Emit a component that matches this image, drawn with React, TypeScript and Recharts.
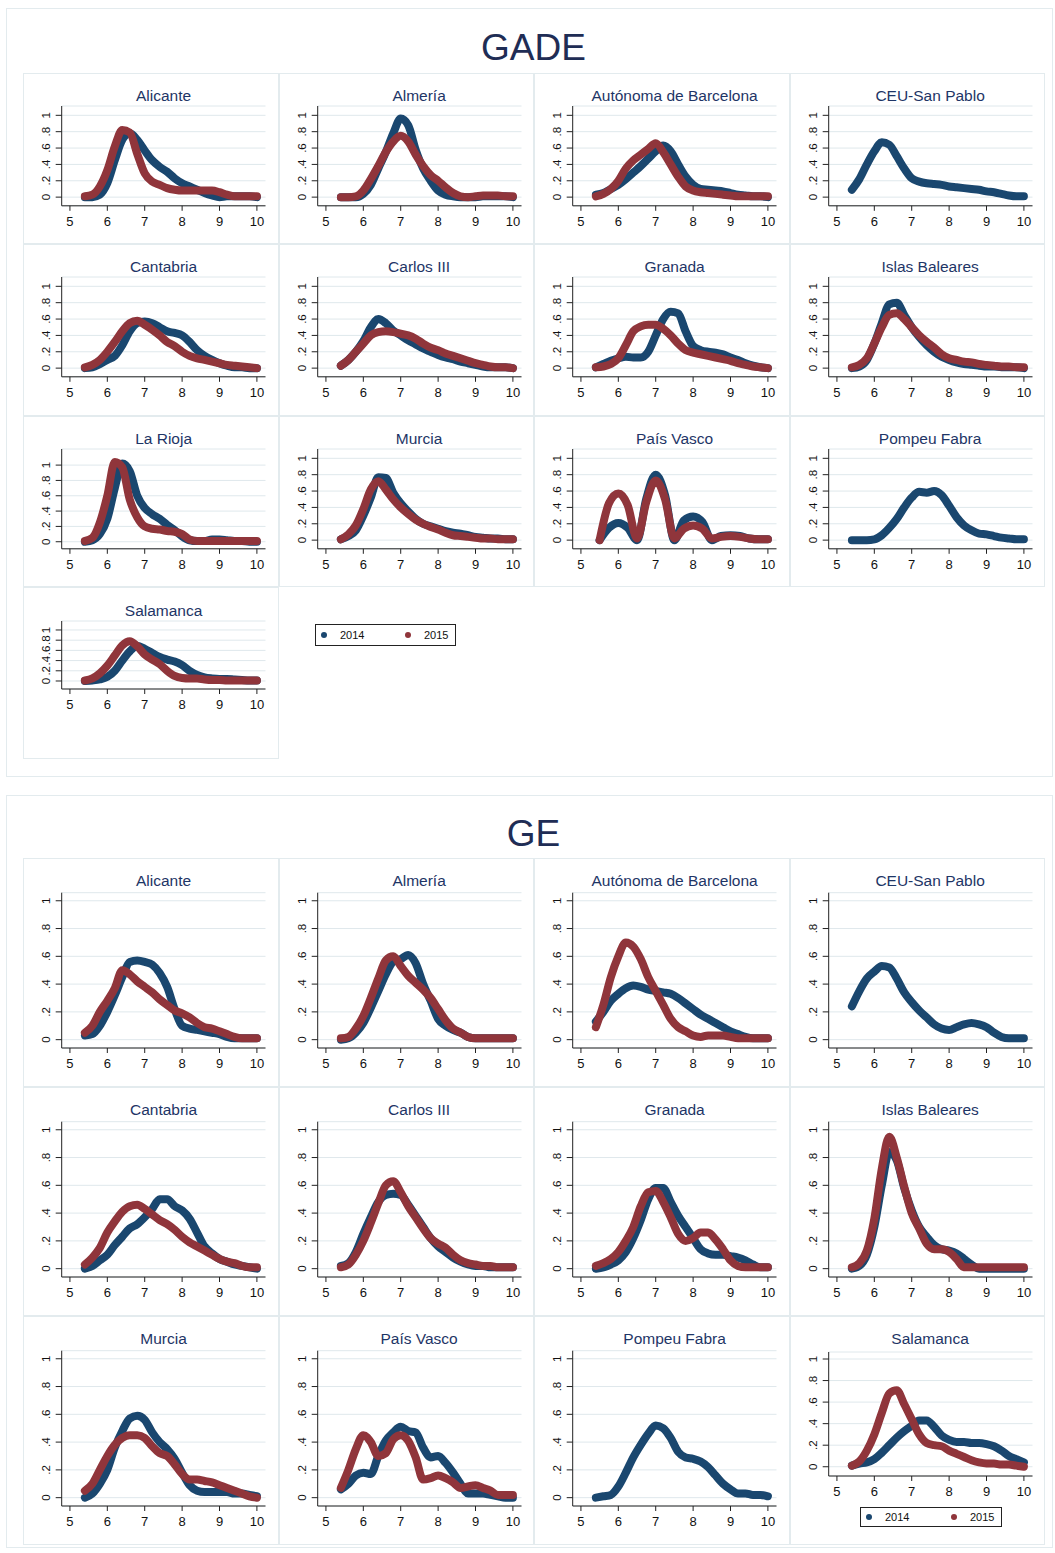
import React from 'react';
import { LineChart, Line, XAxis, YAxis, CartesianGrid } from 'recharts';

const BLUE = '#1a476f';
const RED = '#90353b';
const GRID = '#dfe8ec';
const FRAME = '#e3ebee';
const TITLE = '#1e3566';

// x grid of the density estimates
const X = [5.4, 5.6, 5.8, 6.0, 6.2, 6.4, 6.6, 6.8, 7.0, 7.2, 7.4, 7.6, 7.8, 8.0, 8.2, 8.4, 8.6, 8.8, 9.0, 9.2, 9.4, 9.6, 9.8, 10.0];
const X_PV = [5.5, 5.75, 6.0, 6.25, 6.5, 6.75, 7.0, 7.25, 7.5, 7.75, 8.0, 8.25, 8.5, 8.75, 9.0, 9.25, 9.5, 9.75, 10.0];
const X_TICKS = [5, 6, 7, 8, 9, 10];
const Y_TICKS = [0, 0.2, 0.4, 0.6, 0.8, 1];
const Y_LABELS = ['0', '.2', '.4', '.6', '.8', '1'];
const YEARS = ['2014', '2015'];

// ---- GADE ----
const gadeAlicante14 = [0, 0, 0.03, 0.17, 0.45, 0.7, 0.78, 0.7, 0.57, 0.45, 0.37, 0.31, 0.23, 0.17, 0.13, 0.09, 0.05, 0.02, 0, 0.01, 0.01, 0.01, 0.01, 0];
const gadeAlicante15 = [0.01, 0.03, 0.13, 0.33, 0.62, 0.82, 0.79, 0.53, 0.29, 0.19, 0.15, 0.11, 0.09, 0.08, 0.08, 0.08, 0.08, 0.08, 0.06, 0.03, 0.01, 0.01, 0.01, 0.01];
const gadeAlmeria14 = [0, 0, 0, 0.04, 0.15, 0.35, 0.55, 0.78, 0.96, 0.88, 0.58, 0.35, 0.2, 0.08, 0.03, 0.01, 0, 0, 0, 0.01, 0.01, 0.01, 0.01, 0];
const gadeAlmeria15 = [0, 0, 0.01, 0.08, 0.22, 0.38, 0.55, 0.68, 0.75, 0.68, 0.52, 0.38, 0.27, 0.2, 0.12, 0.05, 0.01, 0, 0.01, 0.02, 0.02, 0.02, 0.01, 0.01];
const gadeAutonoma14 = [0.03, 0.05, 0.1, 0.15, 0.22, 0.3, 0.38, 0.47, 0.56, 0.63, 0.56, 0.4, 0.25, 0.15, 0.1, 0.09, 0.08, 0.07, 0.05, 0.03, 0.02, 0.01, 0.01, 0];
const gadeAutonoma15 = [0.01, 0.04, 0.1, 0.2, 0.35, 0.45, 0.52, 0.59, 0.66, 0.55, 0.4, 0.25, 0.13, 0.08, 0.06, 0.05, 0.04, 0.03, 0.02, 0.01, 0.01, 0.01, 0.01, 0.01];
const gadeCeu14 = [0.09, 0.22, 0.4, 0.56, 0.67, 0.64, 0.5, 0.35, 0.23, 0.19, 0.17, 0.16, 0.15, 0.13, 0.12, 0.11, 0.1, 0.09, 0.07, 0.06, 0.04, 0.02, 0.01, 0.01];
const gadeCantabria14 = [0, 0.01, 0.05, 0.1, 0.15, 0.28, 0.45, 0.55, 0.57, 0.55, 0.5, 0.45, 0.43, 0.4, 0.32, 0.22, 0.15, 0.1, 0.06, 0.03, 0.01, 0.01, 0, 0];
const gadeCantabria15 = [0.01, 0.04, 0.1, 0.2, 0.32, 0.45, 0.55, 0.58, 0.53, 0.47, 0.4, 0.32, 0.27, 0.2, 0.15, 0.12, 0.1, 0.08, 0.06, 0.04, 0.03, 0.02, 0.01, 0];
const gadeCarlos14 = [0.03, 0.1, 0.2, 0.33, 0.5, 0.6, 0.55, 0.46, 0.4, 0.34, 0.29, 0.24, 0.2, 0.16, 0.13, 0.11, 0.08, 0.06, 0.04, 0.02, 0.01, 0.01, 0.01, 0];
const gadeCarlos15 = [0.03, 0.1, 0.2, 0.3, 0.4, 0.44, 0.45, 0.44, 0.42, 0.4, 0.36, 0.3, 0.25, 0.22, 0.18, 0.15, 0.12, 0.09, 0.06, 0.04, 0.02, 0.01, 0.01, 0];
const gadeGranada14 = [0.01, 0.05, 0.09, 0.12, 0.14, 0.13, 0.13, 0.2, 0.4, 0.6, 0.69, 0.67, 0.45, 0.27, 0.22, 0.2, 0.19, 0.17, 0.13, 0.1, 0.06, 0.03, 0.01, 0];
const gadeGranada15 = [0.01, 0.02, 0.05, 0.12, 0.28, 0.45, 0.51, 0.53, 0.53, 0.48, 0.4, 0.3, 0.22, 0.19, 0.17, 0.15, 0.13, 0.11, 0.09, 0.06, 0.04, 0.02, 0.01, 0];
const gadeBaleares14 = [0, 0.02, 0.1, 0.3, 0.55, 0.78, 0.8, 0.65, 0.5, 0.38, 0.28, 0.2, 0.14, 0.1, 0.07, 0.05, 0.04, 0.03, 0.02, 0.02, 0.01, 0.01, 0.01, 0];
const gadeBaleares15 = [0.01, 0.04, 0.12, 0.3, 0.5, 0.65, 0.67, 0.6, 0.5, 0.4, 0.32, 0.25, 0.17, 0.12, 0.1, 0.08, 0.07, 0.05, 0.04, 0.03, 0.02, 0.02, 0.01, 0.01];
const gadeRioja14 = [0, 0.02, 0.1, 0.3, 0.7, 1.02, 0.92, 0.6, 0.44, 0.36, 0.3, 0.22, 0.15, 0.07, 0.02, 0.01, 0.01, 0.03, 0.03, 0.02, 0.01, 0.01, 0, 0];
const gadeRioja15 = [0.01, 0.05, 0.25, 0.6, 1.04, 0.97, 0.55, 0.32, 0.2, 0.17, 0.16, 0.14, 0.13, 0.1, 0.03, 0.01, 0.01, 0.01, 0.01, 0.01, 0.01, 0.01, 0.01, 0.01];
const gadeMurcia14 = [0.01, 0.05, 0.12, 0.3, 0.52, 0.77, 0.76, 0.58, 0.45, 0.35, 0.26, 0.2, 0.17, 0.14, 0.11, 0.09, 0.08, 0.06, 0.04, 0.03, 0.02, 0.02, 0.01, 0.01];
const gadeMurcia15 = [0.01, 0.07, 0.18, 0.38, 0.62, 0.72, 0.62, 0.5, 0.4, 0.32, 0.25, 0.2, 0.16, 0.13, 0.09, 0.06, 0.05, 0.04, 0.03, 0.02, 0.02, 0.01, 0.01, 0.01];
const gadeVasco14 = [0, 0.15, 0.21, 0.15, 0, 0.51, 0.8, 0.55, 0, 0.24, 0.29, 0.22, 0, 0.05, 0.06, 0.05, 0.02, 0.01, 0.01];
const gadeVasco15 = [0, 0.45, 0.57, 0.43, 0.02, 0.47, 0.73, 0.5, 0.02, 0.14, 0.18, 0.14, 0.02, 0.04, 0.05, 0.04, 0.02, 0.01, 0.01];
const gadePompeu14 = [0, 0, 0, 0.01, 0.06, 0.15, 0.26, 0.4, 0.52, 0.59, 0.58, 0.6, 0.55, 0.42, 0.28, 0.18, 0.12, 0.08, 0.07, 0.05, 0.03, 0.02, 0.01, 0.01];
const gadeSalamanca14 = [0, 0.01, 0.03, 0.08, 0.2, 0.4, 0.58, 0.69, 0.63, 0.55, 0.47, 0.42, 0.38, 0.31, 0.2, 0.12, 0.07, 0.05, 0.04, 0.04, 0.03, 0.02, 0.01, 0.01];
const gadeSalamanca15 = [0.01, 0.05, 0.15, 0.3, 0.5, 0.7, 0.78, 0.68, 0.52, 0.42, 0.33, 0.2, 0.1, 0.06, 0.05, 0.05, 0.03, 0.02, 0.02, 0.01, 0.01, 0.01, 0.01, 0.01];

// ---- GE ----
const geAlicante14 = [0.03, 0.04, 0.1, 0.2, 0.32, 0.45, 0.56, 0.57, 0.56, 0.54, 0.48, 0.38, 0.22, 0.1, 0.08, 0.07, 0.06, 0.05, 0.04, 0.02, 0.01, 0.01, 0.01, 0.01];
const geAlicante15 = [0.05, 0.1, 0.2, 0.28, 0.37, 0.5, 0.47, 0.42, 0.38, 0.34, 0.29, 0.25, 0.21, 0.19, 0.16, 0.12, 0.09, 0.08, 0.06, 0.04, 0.02, 0.01, 0.01, 0.01];
const geAlmeria14 = [0, 0.01, 0.05, 0.12, 0.23, 0.35, 0.47, 0.56, 0.58, 0.61, 0.55, 0.4, 0.28, 0.15, 0.1, 0.07, 0.05, 0.02, 0.01, 0.01, 0.01, 0.01, 0.01, 0.01];
const geAlmeria15 = [0.01, 0.02, 0.08, 0.17, 0.3, 0.44, 0.57, 0.6, 0.53, 0.46, 0.41, 0.36, 0.3, 0.22, 0.14, 0.08, 0.05, 0.02, 0.01, 0.01, 0.01, 0.01, 0.01, 0.01];
const geAutonoma14 = [0.13, 0.2, 0.28, 0.33, 0.37, 0.39, 0.38, 0.36, 0.35, 0.34, 0.33, 0.3, 0.26, 0.22, 0.18, 0.15, 0.12, 0.09, 0.06, 0.04, 0.02, 0.01, 0.01, 0.01];
const geAutonoma15 = [0.09, 0.25, 0.45, 0.6, 0.7, 0.67, 0.58, 0.45, 0.35, 0.25, 0.15, 0.09, 0.06, 0.03, 0.02, 0.03, 0.03, 0.03, 0.02, 0.01, 0.01, 0.01, 0.01, 0.01];
const geCeu14 = [0.24, 0.35, 0.44, 0.49, 0.53, 0.52, 0.44, 0.34, 0.27, 0.21, 0.16, 0.11, 0.08, 0.07, 0.09, 0.11, 0.12, 0.11, 0.09, 0.05, 0.02, 0.01, 0.01, 0.01];
const geCantabria14 = [0, 0.02, 0.06, 0.1, 0.17, 0.23, 0.29, 0.32, 0.37, 0.43, 0.5, 0.5, 0.45, 0.42, 0.36, 0.26, 0.16, 0.11, 0.07, 0.05, 0.03, 0.02, 0.01, 0];
const geCantabria15 = [0.03, 0.08, 0.15, 0.26, 0.34, 0.41, 0.45, 0.46, 0.43, 0.39, 0.35, 0.32, 0.28, 0.23, 0.19, 0.16, 0.13, 0.1, 0.07, 0.05, 0.04, 0.02, 0.01, 0.01];
const geCarlos14 = [0.02, 0.04, 0.12, 0.25, 0.37, 0.48, 0.53, 0.54, 0.53, 0.46, 0.38, 0.3, 0.22, 0.16, 0.12, 0.08, 0.05, 0.03, 0.02, 0.02, 0.01, 0.01, 0.01, 0.01];
const geCarlos15 = [0.01, 0.03, 0.1, 0.2, 0.33, 0.47, 0.6, 0.63, 0.55, 0.45, 0.37, 0.29, 0.22, 0.18, 0.15, 0.1, 0.06, 0.04, 0.03, 0.02, 0.02, 0.01, 0.01, 0.01];
const geGranada14 = [0, 0.01, 0.03, 0.06, 0.12, 0.22, 0.35, 0.5, 0.58, 0.58, 0.48, 0.38, 0.3, 0.22, 0.14, 0.11, 0.1, 0.1, 0.09, 0.08, 0.06, 0.03, 0.01, 0.01];
const geGranada15 = [0.02, 0.04, 0.07, 0.12, 0.2, 0.3, 0.45, 0.55, 0.56, 0.48, 0.37, 0.25, 0.2, 0.22, 0.26, 0.26, 0.21, 0.14, 0.06, 0.02, 0.01, 0.01, 0.01, 0.01];
const geBaleares14 = [0, 0.02, 0.1, 0.3, 0.6, 0.84, 0.78, 0.58, 0.42, 0.3, 0.23, 0.17, 0.14, 0.13, 0.11, 0.07, 0.03, 0, 0, 0, 0, 0, 0, 0];
const geBaleares15 = [0.01, 0.04, 0.13, 0.36, 0.72, 0.95, 0.8, 0.59, 0.4, 0.29, 0.18, 0.14, 0.14, 0.12, 0.07, 0.01, 0.01, 0.01, 0.01, 0.01, 0.01, 0.01, 0.01, 0.01];
const geMurcia14 = [0, 0.03, 0.1, 0.2, 0.36, 0.48, 0.57, 0.59, 0.56, 0.47, 0.4, 0.35, 0.28, 0.18, 0.09, 0.05, 0.04, 0.04, 0.04, 0.04, 0.03, 0.03, 0.02, 0.01];
const geMurcia15 = [0.05, 0.1, 0.2, 0.3, 0.38, 0.43, 0.45, 0.45, 0.43, 0.37, 0.32, 0.3, 0.24, 0.17, 0.13, 0.13, 0.12, 0.11, 0.09, 0.07, 0.05, 0.03, 0.01, 0];
const geVasco14 = [0.06, 0.1, 0.16, 0.18, 0.17, 0.3, 0.41, 0.47, 0.51, 0.48, 0.47, 0.36, 0.29, 0.3, 0.25, 0.18, 0.1, 0.03, 0.03, 0.03, 0.02, 0.01, 0, 0];
const geVasco15 = [0.07, 0.2, 0.35, 0.45, 0.4, 0.3, 0.32, 0.42, 0.45, 0.41, 0.29, 0.13, 0.14, 0.16, 0.14, 0.11, 0.07, 0.08, 0.09, 0.07, 0.05, 0.02, 0.02, 0.02];
const gePompeu14 = [0, 0.01, 0.02, 0.08, 0.18, 0.29, 0.38, 0.46, 0.52, 0.5, 0.43, 0.33, 0.29, 0.28, 0.26, 0.22, 0.16, 0.1, 0.06, 0.03, 0.03, 0.02, 0.02, 0.01];
const geSalamanca14 = [0.01, 0.03, 0.04, 0.07, 0.13, 0.2, 0.27, 0.33, 0.38, 0.43, 0.43, 0.37, 0.29, 0.25, 0.23, 0.23, 0.22, 0.22, 0.21, 0.19, 0.15, 0.1, 0.07, 0.04];
const geSalamanca15 = [0.01, 0.05, 0.15, 0.3, 0.5, 0.68, 0.71, 0.58, 0.44, 0.3, 0.22, 0.2, 0.19, 0.15, 0.12, 0.09, 0.06, 0.04, 0.03, 0.03, 0.02, 0.02, 0.01, 0];

// panel geometry (px inside a panel)
const PW = 255.5;
const COLS = [23, 278.5, 534, 789.5];
const GADE_ROWS = [72.5, 244, 415.5, 587];
const GE_ROWS = [858, 1087, 1316];
const X_DOMAIN = [4.78, 10.23];
const PLOT_LEFT = 38.7;
const PLOT_RIGHT = 242.5;

type Geo = { h: number; titleY: number; top: number; bottom: number; y: number[] };
const G_GADE: Geo = { h: 171.5, titleY: 23, top: 33, bottom: 132.8, y: [-0.106, 1.114] };
const G_RIOJA: Geo = { h: 171.5, titleY: 23, top: 33, bottom: 132.8, y: [-0.092, 1.21] };
const G_GADE_SAL: Geo = { h: 171.5, titleY: 24, top: 34, bottom: 102, y: [-0.157, 1.176] };
const G_GE: Geo = { h: 229, titleY: 23.4, top: 34.7, bottom: 190, y: [-0.06, 1.058] };
const G_GE_SAL: Geo = { h: 229, titleY: 23.4, top: 36, bottom: 160, y: [-0.086, 1.065] };

const YTick = (props: any) => {
  const { y, payload } = props;
  const i = Y_TICKS.indexOf(payload.value);
  return (
    <text x={23.5} y={y} transform={`rotate(-90 23.5 ${y})`} textAnchor="middle" dominantBaseline="central" fontSize={11.5} fill="#111">
      {Y_LABELS[i]}
    </text>
  );
};

interface PanelProps {
  left: number;
  top: number;
  title: string;
  xs: number[];
  s14: number[];
  s15?: number[];
  geo: Geo;
}

const Panel: React.FC<PanelProps> = ({ left, top, title, xs, s14, s15, geo }) => {
  const data = xs.map((x, i) => ({ x, a: s14[i], b: s15 ? s15[i] : null }));
  return (
    <div style={{ position: 'absolute', left, top, width: PW, height: geo.h, boxShadow: `inset 0 0 0 1px ${FRAME}` }}>
      <div style={{ position: 'absolute', left: PLOT_LEFT, width: PLOT_RIGHT - PLOT_LEFT, top: geo.titleY - 9, height: 18, lineHeight: '18px', textAlign: 'center', fontSize: 15.5, color: TITLE, whiteSpace: 'nowrap' }}>
        {title}
      </div>
      <div style={{ position: 'absolute', left: 0, top: 0 }}>
        <LineChart
          width={PW}
          height={geo.h}
          data={data}
          margin={{ top: geo.top, right: PW - PLOT_RIGHT, bottom: geo.h - geo.bottom - 30, left: PLOT_LEFT - 38 }}
        >
          <CartesianGrid vertical={false} stroke={GRID} strokeWidth={1} />
          <XAxis
            type="number"
            dataKey="x"
            domain={X_DOMAIN}
            ticks={X_TICKS}
            allowDataOverflow
            interval={0}
            height={30}
            tickSize={5}
            tickMargin={6}
            axisLine={{ stroke: '#222' }}
            tickLine={{ stroke: '#222' }}
            tick={{ fontSize: 13, fill: '#111' }}
          />
          <YAxis
            type="number"
            domain={geo.y}
            ticks={Y_TICKS}
            allowDataOverflow
            interval={0}
            width={38}
            tickSize={6}
            axisLine={{ stroke: '#222' }}
            tickLine={{ stroke: '#222' }}
            tick={<YTick />}
          />
          <Line type="monotone" dataKey="a" stroke={BLUE} strokeWidth={8} strokeLinecap="round" strokeLinejoin="round" dot={false} activeDot={false} isAnimationActive={false} />
          {s15 && (
            <Line type="monotone" dataKey="b" stroke={RED} strokeWidth={8} strokeLinecap="round" strokeLinejoin="round" dot={false} activeDot={false} isAnimationActive={false} />
          )}
        </LineChart>
      </div>
    </div>
  );
};

const LegendBox: React.FC<{ left: number; top: number; w: number; h: number; gap: number }> = ({ left, top, w, h, gap }) => (
  <div style={{ position: 'absolute', left, top, width: w, height: h, border: '1px solid #222', boxSizing: 'border-box', fontSize: 11, color: '#111' }}>
    {YEARS.map((yr, i) => (
      <div key={yr} style={{ position: 'absolute', left: 5 + i * gap, top: 0, height: h - 2, display: 'flex', alignItems: 'center' }}>
        <span style={{ display: 'inline-block', width: 6, height: 6, borderRadius: 3, background: i === 0 ? BLUE : RED }} />
        <span style={{ marginLeft: 13 }}>{yr}</span>
      </div>
    ))}
  </div>
);

const GADE_PANELS = [
  { title: 'Alicante', xs: X, s14: gadeAlicante14, s15: gadeAlicante15 },
  { title: 'Almería', xs: X, s14: gadeAlmeria14, s15: gadeAlmeria15 },
  { title: 'Autónoma de Barcelona', xs: X, s14: gadeAutonoma14, s15: gadeAutonoma15 },
  { title: 'CEU-San Pablo', xs: X, s14: gadeCeu14 },
  { title: 'Cantabria', xs: X, s14: gadeCantabria14, s15: gadeCantabria15 },
  { title: 'Carlos III', xs: X, s14: gadeCarlos14, s15: gadeCarlos15 },
  { title: 'Granada', xs: X, s14: gadeGranada14, s15: gadeGranada15 },
  { title: 'Islas Baleares', xs: X, s14: gadeBaleares14, s15: gadeBaleares15 },
  { title: 'La Rioja', xs: X, s14: gadeRioja14, s15: gadeRioja15, geo: G_RIOJA },
  { title: 'Murcia', xs: X, s14: gadeMurcia14, s15: gadeMurcia15 },
  { title: 'País Vasco', xs: X_PV, s14: gadeVasco14, s15: gadeVasco15 },
  { title: 'Pompeu Fabra', xs: X, s14: gadePompeu14 },
  { title: 'Salamanca', xs: X, s14: gadeSalamanca14, s15: gadeSalamanca15, geo: G_GADE_SAL },
];

const GE_PANELS = [
  { title: 'Alicante', xs: X, s14: geAlicante14, s15: geAlicante15 },
  { title: 'Almería', xs: X, s14: geAlmeria14, s15: geAlmeria15 },
  { title: 'Autónoma de Barcelona', xs: X, s14: geAutonoma14, s15: geAutonoma15 },
  { title: 'CEU-San Pablo', xs: X, s14: geCeu14 },
  { title: 'Cantabria', xs: X, s14: geCantabria14, s15: geCantabria15 },
  { title: 'Carlos III', xs: X, s14: geCarlos14, s15: geCarlos15 },
  { title: 'Granada', xs: X, s14: geGranada14, s15: geGranada15 },
  { title: 'Islas Baleares', xs: X, s14: geBaleares14, s15: geBaleares15 },
  { title: 'Murcia', xs: X, s14: geMurcia14, s15: geMurcia15 },
  { title: 'País Vasco', xs: X, s14: geVasco14, s15: geVasco15 },
  { title: 'Pompeu Fabra', xs: X, s14: gePompeu14 },
  { title: 'Salamanca', xs: X, s14: geSalamanca14, s15: geSalamanca15, geo: G_GE_SAL },
];

export default function App() {
  return (
    <div style={{ position: 'absolute', left: 0, top: 0, width: 1055, height: 1553, background: '#fff', fontFamily: "'Liberation Sans', Arial, sans-serif", overflow: 'hidden' }}>
      {/* section frames */}
      <div style={{ position: 'absolute', left: 6, top: 8, width: 1047, height: 769, boxShadow: `inset 0 0 0 1px ${FRAME}` }} />
      <div style={{ position: 'absolute', left: 6, top: 795, width: 1047, height: 753, boxShadow: `inset 0 0 0 1px ${FRAME}` }} />

      <div style={{ position: 'absolute', left: 0, width: 1067, top: 29, fontSize: 37, lineHeight: '37px', textAlign: 'center', color: '#1f2d55' }}>GADE</div>
      <div style={{ position: 'absolute', left: 0, width: 1067, top: 815, fontSize: 37, lineHeight: '37px', textAlign: 'center', color: '#1f2d55' }}>GE</div>

      {GADE_PANELS.map((p, i) => (
        <Panel
          key={'gade' + i}
          left={COLS[i % 4]}
          top={GADE_ROWS[Math.floor(i / 4)]}
          title={p.title}
          xs={p.xs}
          s14={p.s14}
          s15={p.s15}
          geo={p.geo || G_GADE}
        />
      ))}
      <LegendBox left={315} top={624} w={141} h={22} gap={84} />

      {GE_PANELS.map((p, i) => (
        <Panel
          key={'ge' + i}
          left={COLS[i % 4]}
          top={GE_ROWS[Math.floor(i / 4)]}
          title={p.title}
          xs={p.xs}
          s14={p.s14}
          s15={p.s15}
          geo={p.geo || G_GE}
        />
      ))}
      <LegendBox left={860} top={1507} w={142} h={20} gap={85} />
    </div>
  );
}
